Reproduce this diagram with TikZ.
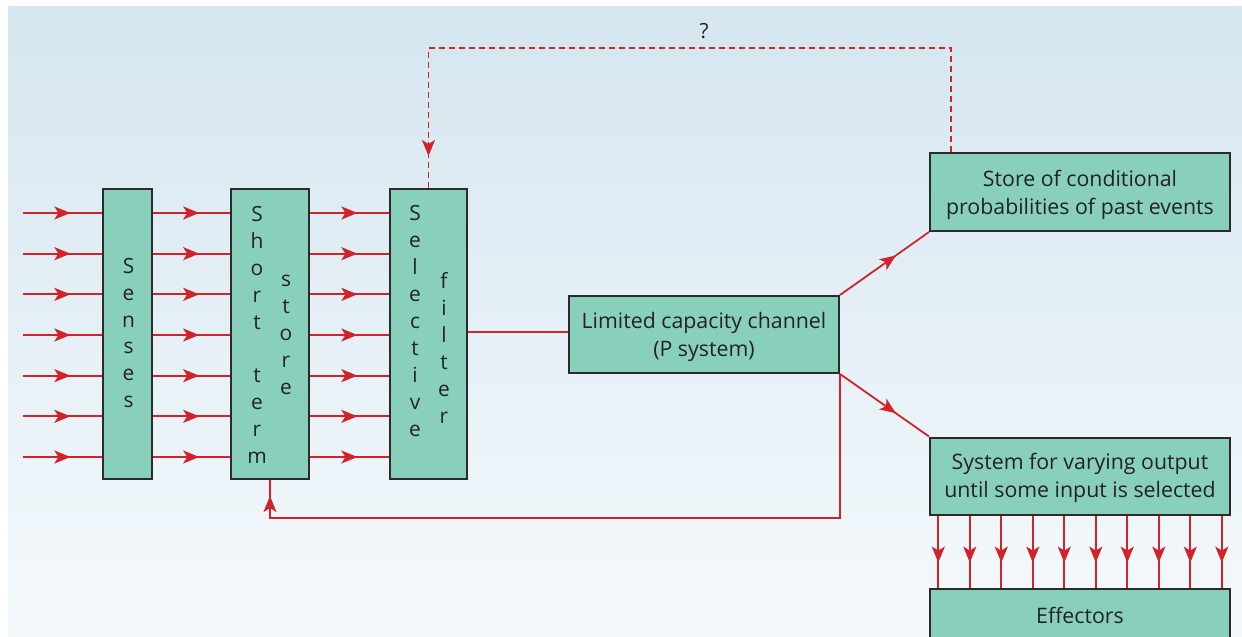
\documentclass[tikz,border=0pt]{standalone}
\usepackage{fontspec}
\setmainfont{Open Sans}
\usetikzlibrary{arrows.meta,decorations.markings}
\definecolor{boxfill}{HTML}{89D0BC}
\definecolor{boxline}{HTML}{2B2B2B}
\definecolor{sigred}{HTML}{D2232A}
\definecolor{inktext}{HTML}{222222}
\definecolor{skytop}{HTML}{D5E6EF}
\definecolor{skybot}{HTML}{F5F9FC}

\begin{document}
\begin{tikzpicture}[x=1bp,y=-1bp,
  box/.style={draw=boxline, line width=2bp, fill=boxfill, inner sep=0pt},
  boxtext/.style={text=inktext, font=\fontsize{21.4}{28}\selectfont, align=center, inner sep=0pt},
  vstack/.style={text=inktext, font=\fontsize{21}{27}\selectfont, align=center, inner sep=0pt},
  sig/.style={color=sigred, line width=1.8bp},
  midtip/.style={decoration={markings, mark=at position #1 with
      {\arrow[solid]{Stealth[length=16bp,width=13bp,inset=4bp]}}},
    postaction={decorate}},
]
% canvas and soft sky gradient
\useasboundingbox (0,0) rectangle (1242,637);
\shade[top color=skytop, bottom color=skybot] (8,7) rectangle (1242,637);

% processing stages
\node[box, minimum width=49bp, minimum height=290bp] (senses) at (127.5,334) {};
\node[box, minimum width=78bp, minimum height=290bp] (sts) at (270,334) {};
\node[box, minimum width=77bp, minimum height=290bp] (sf) at (428.5,334) {};
\node[box, minimum width=270bp, minimum height=77bp] (lcc) at (704,334.5) {};
\node[box, minimum width=300bp, minimum height=78bp] (store) at (1080,192) {};
\node[box, minimum width=300bp, minimum height=77bp] (sys) at (1080,476) {};
\node[box, minimum width=300bp, minimum height=52bp] (eff) at (1080,615) {};

% box captions
\node[boxtext] (tlcc) at ([yshift=-2.5bp]lcc.center) {Limited capacity channel\\(P system)};
\node[boxtext] (tstore) at ([yshift=-2.5bp]store.center) {Store of conditional\\probabilities of past events};
\node[boxtext] (tsys) at ([yshift=-2bp]sys.center) {System for varying output\\until some input is selected};
\node[boxtext] (teff) at (eff.center) {Effectors};

% vertical lettering
\node[vstack] (tsenses) at (128.5,333) {S\\e\\n\\s\\e\\s};
\node[vstack] (tshort) at (257,335) {S\\h\\o\\r\\t\\\strut\\t\\e\\r\\m};
\node[vstack] (tstorev) at (286,335) {s\\t\\o\\r\\e};
\node[vstack] (tsel) at (415,321) {S\\e\\l\\e\\c\\t\\i\\v\\e};
\node[vstack] (tfilt) at (444,348) {f\\i\\l\\t\\e\\r};

% parallel input channels
\foreach \r [count=\i] in {213,253.67,294.33,335,375.67,416.33,457} {
  \coordinate (in\i) at (23,\r);
  \draw[sig, midtip=0.6] (in\i) -- (senses.west |- in\i);
  \draw[sig, midtip=0.6] (senses.east |- in\i) -- (sts.west |- in\i);
  \draw[sig, midtip=0.6] (sts.east |- in\i) -- (sf.west |- in\i);
}

% filter to channel
\coordinate (fc) at (500,332);
\draw[sig] (sf.east |- fc) -- (lcc.west |- fc);

% channel outputs
\draw[sig, midtip=0.63] (lcc.north east) -- (store.south west);
\draw[sig, midtip=0.63] (lcc.south east) -- (sys.north west);

% rehearsal loop back to short term store
\coordinate (fb) at (sts.south |- 0,518);
\draw[sig, midtip=-16bp] (lcc.south east) |- (fb) -- (sts.south);

% uncertain feedback to the filter
\coordinate (dq) at (951,48);
\draw[sig, dash pattern=on 6bp off 4bp, midtip=-32bp]
  (store.north -| dq) -- (dq) -- (sf.north |- dq) -- (sf.north);
\node[text=inktext, font=\fontsize{21}{22}\selectfont] (qmark) at (704,31) {?};

% effector drive lines
\foreach \k in {0,...,9} {
  \coordinate (ex\k) at (938.3+31.5*\k,0);
  \draw[sig, midtip=0.65] (sys.south -| ex\k) -- (eff.north -| ex\k);
}
\end{tikzpicture}
\end{document}
